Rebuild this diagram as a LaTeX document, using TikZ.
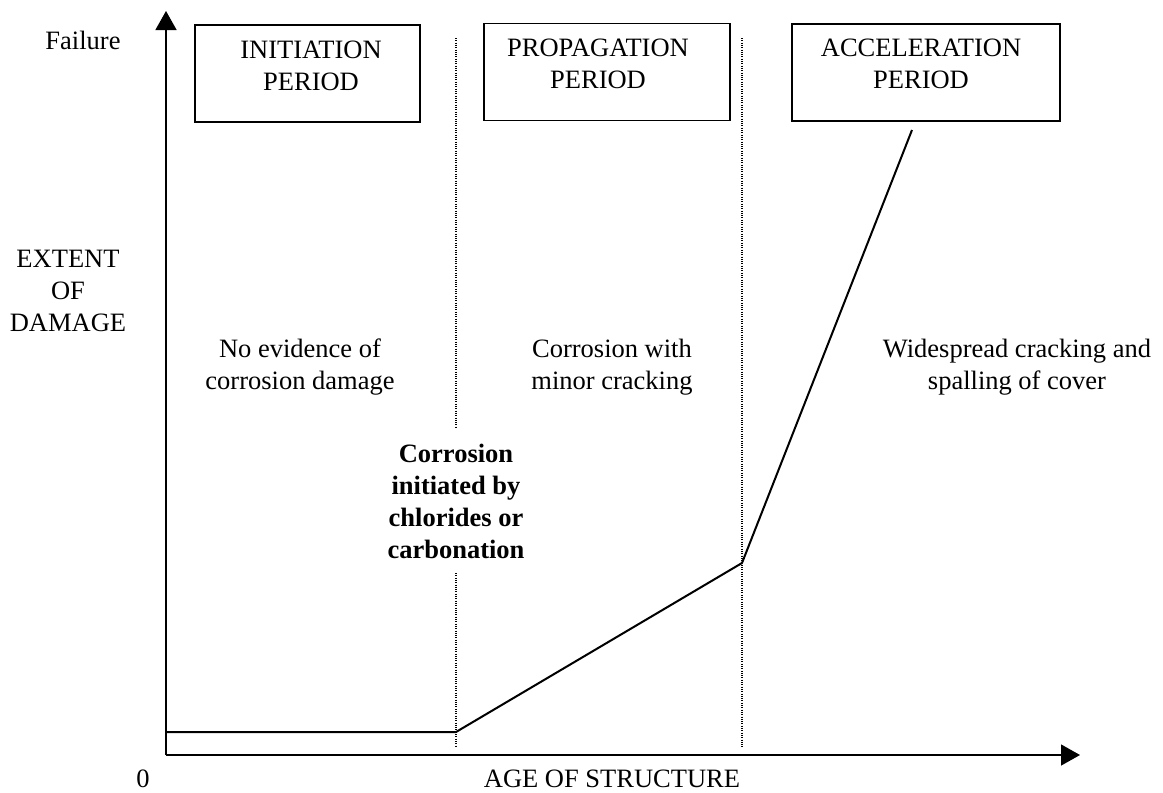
\documentclass[tikz,border=0pt]{standalone}
\usepackage{fontspec}
\setmainfont{Liberation Serif}
\usetikzlibrary{arrows.meta}
\tikzset{>={Triangle[length=19pt,width=21pt]}}
\tikzset{txt/.style={align=center, inner sep=0pt, font=\fontsize{26.5}{32}\selectfont},
    period/.style={draw, line width=1.5pt, inner sep=0pt},
    limit/.style={line width=1.3pt, dash pattern=on 1pt off 1.3pt}}

\begin{document}
\begin{tikzpicture}[x=1pt,y=-1pt]
\useasboundingbox (0,0) rectangle (1163,793);
    %axes
    \coordinate (origin) at (166,755);
    \coordinate (ytip) at (166,11);
    \coordinate (xtip) at (1080,755);
    \draw [->, line width=1.4pt] (origin) -- (ytip);
    \draw [->, line width=1.4pt] (origin) -- (xtip);
    %period boxes
    \node[period, minimum width=225pt, minimum height=97pt] (initbox) at (307.5,73.5) {};
    \node[period, minimum width=246pt, minimum height=97pt] (propbox) at (607,72) {};
    \node[period, minimum width=268pt, minimum height=97pt] (accbox) at (926,72.5) {};
    \node[txt] (inittxt) at (311,66) {INITIATION\\PERIOD};
    \node[txt] (proptxt) at (598,64) {PROPAGATION\\PERIOD};
    \node[txt] (acctxt) at (921,64) {ACCELERATION\\PERIOD};
    %boundaries
    \coordinate (b1top) at (456,38);
    \coordinate (b1mid) at (456,427);
    \coordinate (b1low) at (456,573);
    \coordinate (b1bot) at (456,747);
    \coordinate (b2top) at (742,38);
    \coordinate (b2bot) at (742,747);
    \draw [limit] (b1top) -- (b1mid);
    \draw [limit] (b1low) -- (b1bot);
    \draw [limit] (b2top) -- (b2bot);
    %damage curve
    \coordinate (c0) at (166,732);
    \coordinate (c1) at (456,732);
    \coordinate (c2) at (742,563);
    \coordinate (c3) at (912,130);
    \draw [line width=2pt, line join=round] (c0) -- (c1) -- (c2) -- (c3);
    %labels
    \node[txt] (failure) at (83,40) {Failure};
    \node[txt] (extent) at (68,291) {EXTENT\\OF\\DAMAGE};
    \node[txt] (noevid) at (300,367) {No evidence of\\corrosion damage};
    \node[txt] (minor) at (612,367) {Corrosion with\\minor cracking};
    \node[txt] (wide) at (1017,367) {Widespread cracking and\\spalling of cover};
    \node[txt, font=\fontsize{26.5}{32}\selectfont\bfseries] (onset) at (456,501) {Corrosion\\initiated by\\chlorides or\\carbonation};
    \node[txt] (zero) at (143,779) {0};
    \node[txt] (age) at (612,779) {AGE OF STRUCTURE};
\end{tikzpicture}
\end{document}
